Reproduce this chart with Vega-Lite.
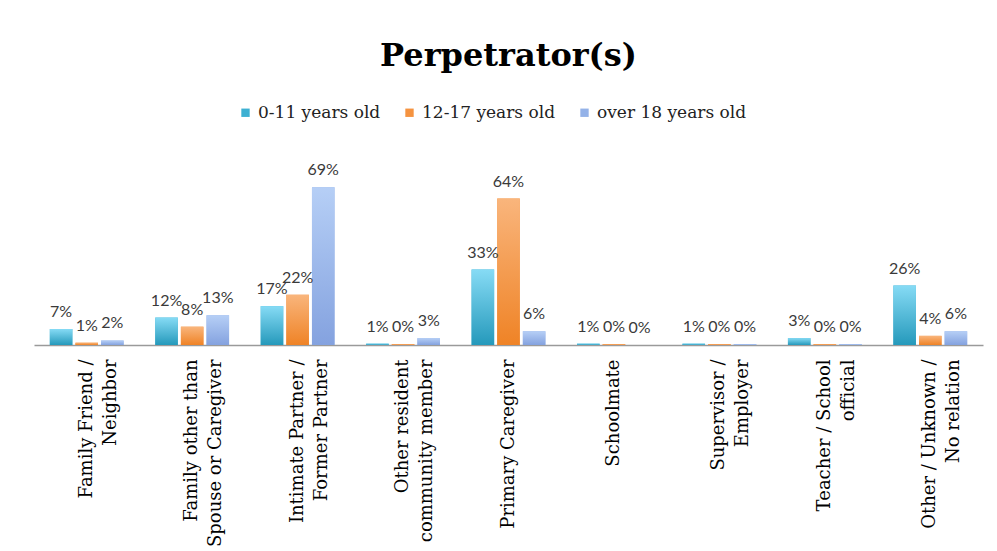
{
  "$schema": "https://vega.github.io/schema/vega-lite/v6.json",
  "autosize": "none",
  "width": 949,
  "height": 183,
  "padding": {"left": 34, "top": 162, "right": 14, "bottom": 206},
  "background": "white",
  "title": {
    "text": "Perpetrator(s)",
    "font": "DejaVu Serif",
    "fontSize": 32,
    "fontWeight": "bold",
    "color": "#000000",
    "anchor": "middle",
    "offset": 31
  },
  "config": {"view": {"stroke": null}},
  "data": {
    "values": [
      {"cat": "Family Friend /|Neighbor", "grp": "0-11 years old", "v": 0.07},
      {"cat": "Family Friend /|Neighbor", "grp": "12-17 years old", "v": 0.01},
      {"cat": "Family Friend /|Neighbor", "grp": "over 18 years old", "v": 0.02},
      {"cat": "Family other than|Spouse or Caregiver", "grp": "0-11 years old", "v": 0.12},
      {"cat": "Family other than|Spouse or Caregiver", "grp": "12-17 years old", "v": 0.08},
      {"cat": "Family other than|Spouse or Caregiver", "grp": "over 18 years old", "v": 0.13},
      {"cat": "Intimate Partner /|Former Partner", "grp": "0-11 years old", "v": 0.17},
      {"cat": "Intimate Partner /|Former Partner", "grp": "12-17 years old", "v": 0.22},
      {"cat": "Intimate Partner /|Former Partner", "grp": "over 18 years old", "v": 0.69},
      {"cat": "Other resident|community member", "grp": "0-11 years old", "v": 0.006},
      {"cat": "Other resident|community member", "grp": "12-17 years old", "v": 0.004},
      {"cat": "Other resident|community member", "grp": "over 18 years old", "v": 0.03},
      {"cat": "Primary Caregiver", "grp": "0-11 years old", "v": 0.33},
      {"cat": "Primary Caregiver", "grp": "12-17 years old", "v": 0.64},
      {"cat": "Primary Caregiver", "grp": "over 18 years old", "v": 0.06},
      {"cat": "Schoolmate", "grp": "0-11 years old", "v": 0.006},
      {"cat": "Schoolmate", "grp": "12-17 years old", "v": 0.004},
      {"cat": "Schoolmate", "grp": "over 18 years old", "v": 0.0},
      {"cat": "Supervisor /|Employer", "grp": "0-11 years old", "v": 0.006},
      {"cat": "Supervisor /|Employer", "grp": "12-17 years old", "v": 0.004},
      {"cat": "Supervisor /|Employer", "grp": "over 18 years old", "v": 0.004},
      {"cat": "Teacher / School|official", "grp": "0-11 years old", "v": 0.03},
      {"cat": "Teacher / School|official", "grp": "12-17 years old", "v": 0.004},
      {"cat": "Teacher / School|official", "grp": "over 18 years old", "v": 0.004},
      {"cat": "Other / Unknown /|No relation", "grp": "0-11 years old", "v": 0.26},
      {"cat": "Other / Unknown /|No relation", "grp": "12-17 years old", "v": 0.04},
      {"cat": "Other / Unknown /|No relation", "grp": "over 18 years old", "v": 0.06}
    ]
  },
  "encoding": {
    "x": {
      "field": "cat",
      "type": "nominal",
      "sort": null,
      "title": null,
      "scale": {"paddingInner": 0.3, "paddingOuter": 0.15},
      "axis": {
        "labelExpr": "split(datum.label, '|')",
        "labelAngle": -90,
        "labelAlign": "right",
        "labelBaseline": "middle",
        "labelFont": "DejaVu Serif",
        "labelFontSize": 18,
        "labelColor": "#000000",
        "labelLineHeight": 24,
        "labelPadding": 14,
        "labelLimit": 400,
        "ticks": false,
        "domainColor": "#9a9a9a",
        "domainWidth": 1.5,
        "grid": false
      }
    },
    "xOffset": {
      "field": "grp",
      "type": "nominal",
      "sort": ["0-11 years old", "12-17 years old", "over 18 years old"],
      "scale": {"paddingInner": 0.12}
    },
    "y": {
      "field": "v",
      "type": "quantitative",
      "scale": {"domain": [0, 0.8]},
      "axis": null
    }
  },
  "layer": [
    {
      "mark": {"type": "bar"},
      "encoding": {
        "color": {
          "field": "grp",
          "type": "nominal",
          "sort": ["0-11 years old", "12-17 years old", "over 18 years old"],
          "scale": {
            "domain": ["0-11 years old", "12-17 years old", "over 18 years old"],
            "range": ["#3db0d2", "#f59340", "#94b2e8"]
          },
          "legend": {
            "orient": "none",
            "legendX": 203,
            "legendY": -58,
            "direction": "horizontal",
            "title": null,
            "symbolType": "square",
            "symbolSize": 70,
            "symbolStrokeWidth": 0,
            "labelFont": "DejaVu Serif",
            "labelFontSize": 17,
            "labelLimit": 300,
            "labelColor": "#222222",
            "labelOffset": 4,
            "columnPadding": 20
          }
        }
      }
    },
    {
      "mark": {"type": "bar"},
      "encoding": {
        "fill": {
          "condition": [
            {
              "test": "datum.grp === '0-11 years old'",
              "value": {"gradient": "linear", "x1": 0, "y1": 0, "x2": 0, "y2": 1,
                "stops": [{"offset": 0, "color": "#86dbf5"}, {"offset": 1, "color": "#2599bb"}]}
            },
            {
              "test": "datum.grp === '12-17 years old'",
              "value": {"gradient": "linear", "x1": 0, "y1": 0, "x2": 0, "y2": 1,
                "stops": [{"offset": 0, "color": "#f9b57c"}, {"offset": 1, "color": "#ef8326"}]}
            }
          ],
          "value": {"gradient": "linear", "x1": 0, "y1": 0, "x2": 0, "y2": 1,
            "stops": [{"offset": 0, "color": "#b6cff6"}, {"offset": 1, "color": "#84a2df"}]}
        }
      }
    },
    {
      "mark": {"type": "text", "baseline": "bottom", "dy": -9, "font": "Lato", "fontSize": 16, "color": "#3a3a3a"},
      "encoding": {
        "text": {"field": "v", "type": "quantitative", "format": ".0%"}
      }
    }
  ]
}
